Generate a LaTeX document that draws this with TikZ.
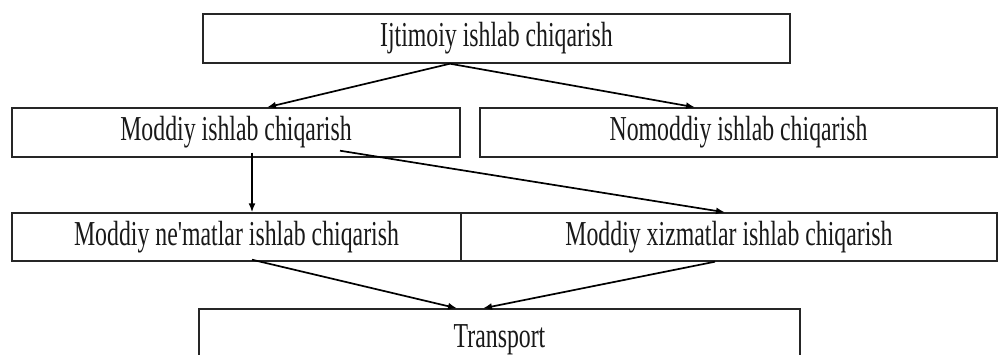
\documentclass[tikz,border=0pt]{standalone}
\usepackage{fontspec}
\newfontfamily\cf[FakeStretch=0.68]{Liberation Serif}
\usetikzlibrary{arrows.meta}
\begin{document}
\begin{tikzpicture}[x=1pt,y=-1pt,
  box/.style={draw=black!85,line width=1.4pt,rectangle,inner sep=0pt,
    font=\cf\fontsize{35}{35}\selectfont,text=black!90},
  arr/.style={line width=1.7pt,-{Latex[length=9pt,width=7pt]}}]
\useasboundingbox (0,0) rectangle (1006,354);
\node[box,minimum width=587pt,minimum height=49pt] (top) at (496.5,38.5) {Ijtimoiy ishlab chiqarish};
\node[box,minimum width=448pt,minimum height=49pt] (mod) at (236,132.5) {Moddiy ishlab chiqarish};
\node[box,minimum width=517pt,minimum height=49pt] (nom) at (738.5,132.5) {Nomoddiy ishlab chiqarish};
\node[box,minimum width=449pt,minimum height=48pt] (nem) at (236.5,237) {Moddiy ne'matlar ishlab chiqarish};
\node[box,minimum width=536pt,minimum height=48pt] (xiz) at (729,237) {Moddiy xizmatlar ishlab chiqarish};
\node[box,minimum width=601pt,minimum height=61pt] (tr) at (499.5,339.5) {Transport};
\draw[arr] ([xshift=-46.5pt]top.south) -- ([xshift=31pt]mod.north);
\draw[arr] ([xshift=-46.5pt]top.south) -- ([xshift=-43.5pt]nom.north);
\draw[arr] ([xshift=16pt,yshift=5pt]mod.south) -- ([xshift=15.5pt]nem.north);
\draw[arr] ([xshift=104pt,yshift=7pt]mod.south) -- ([xshift=-4pt]xiz.north);
\draw[arr] ([xshift=15.5pt,yshift=2pt]nem.south) -- ([xshift=-42.5pt]tr.north);
\draw[arr] ([xshift=-14pt]xiz.south) -- ([xshift=-16.5pt]tr.north);
\end{tikzpicture}
\end{document}
